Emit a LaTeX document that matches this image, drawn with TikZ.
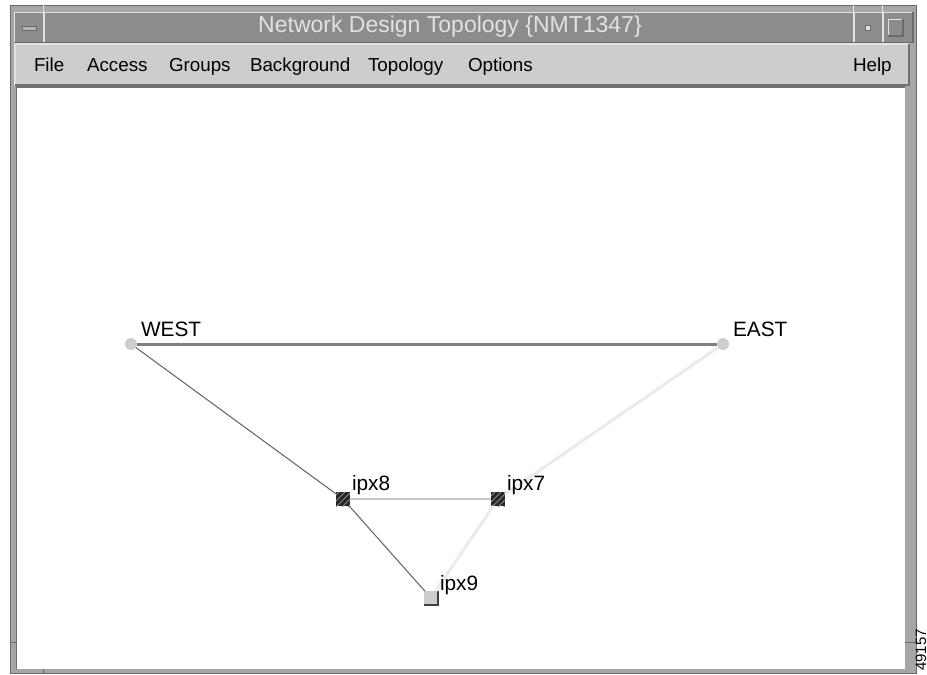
\documentclass[tikz,border=0pt]{standalone}
\usepackage{fontspec}
\setmainfont{Liberation Sans}
\usetikzlibrary{patterns}
\definecolor{framegray}{HTML}{A6A6A6}
\definecolor{framedark}{HTML}{6A6A6A}
\definecolor{titlegray}{HTML}{8C8C8C}
\definecolor{menugray}{HTML}{CDCDCD}
\definecolor{bevellight}{HTML}{E2E2E2}
\definecolor{beveldark}{HTML}{707070}

\begin{document}
\begin{tikzpicture}[x=0.5pt, y=-0.5pt,
  every node/.style = {inner sep=0pt, outer sep=0pt},
  menuitem/.style = {anchor=base west, font=\fontsize{9.4}{11}\selectfont},
  tag/.style = {anchor=base west, font=\fontsize{10.4}{12}\selectfont},
  site/.style = {circle, fill=menugray, minimum size=6pt},
  switch/.style = {rectangle, minimum size=7pt, fill=black!85,
    postaction={pattern=north east lines, pattern color=white!55!black}},
  spare/.style = {rectangle, minimum size=7pt, fill=menugray},
  trunk/.style = {draw=black!50, line width=1.5pt},
  thin/.style = {draw=black!62, line width=0.5pt},
  pale/.style = {draw=black!22, line width=0.75pt},
  faint/.style = {draw=black!8, line width=1.5pt}]

  \useasboundingbox (0,0) rectangle (927,675);
  \fill[white] (0,0) rectangle (927,675);

  \fill[framegray] (10,5) rectangle (917,674);
  \draw[framedark, line width=0.5pt] (10.5,5.5) rectangle (916.5,673.5);
  \fill[titlegray] (14,12) rectangle (913,42);
  \draw[bevellight, line width=0.5pt] (14,42) -- (14,12) -- (913,12);
  \draw[framedark, line width=0.75pt] (14,42.5) -- (913,42.5) -- (913,12);
  \foreach \sx in {43,853,882}
    \draw[framedark, line width=0.5pt] (\sx,5) -- (\sx,42)
      [bevellight] (\sx+1.5,12) -- (\sx+1.5,42);
  \draw[framedark, line width=0.5pt, fill=bevellight!80!black] (22,26) rectangle (36,30);
  \draw[framedark, line width=0.5pt, fill=bevellight] (865,25) rectangle (870,30);
  \draw[bevellight, line width=0.5pt] (888,36) -- (888,19) -- (903,19);
  \draw[framedark, line width=0.75pt] (888,36) -- (903,36) -- (903,19);

  \fill[menugray] (15,44) rectangle (909,86);
  \draw[bevellight, line width=0.75pt] (15,86) -- (15,44) -- (909,44);
  \draw[beveldark, line width=1pt] (15,85) -- (909,85) -- (909,44);
  \fill[white] (17,87) rectangle (905,669);
  \draw[beveldark, line width=0.75pt] (16.5,669) -- (16.5,87) -- (905,87);
  \foreach \sy in {642}
    \draw[framedark, line width=0.5pt] (10,\sy) -- (16,\sy) (905,\sy) -- (917,\sy);
  \draw[framedark, line width=0.5pt] (43,669) -- (43,674);

  \node[font=\fontsize{11.5}{13}\selectfont, text=bevellight] (title) at (450,27)
    {Network Design Topology \{NMT1347\}};

  \node[menuitem] (mfile) at (34,71) {File};
  \node[menuitem] (maccess) at (87,71) {Access};
  \node[menuitem] (mgroups) at (169,71) {Groups};
  \node[menuitem] (mbackground) at (250,71) {Background};
  \node[menuitem] (mtopology) at (368,71) {Topology};
  \node[menuitem] (moptions) at (468,71) {Options};
  \node[menuitem] (mhelp) at (853,71) {Help};

  \node [site] (west) at (131,344) {};
  \node [site] (east) at (723,344) {};
  \node [switch] (ipx8) at (343,499) {};
  \node [switch] (ipx7) at (498,499) {};
  \node [spare] (ipx9) at (431,598) {};
  \draw[black!75, line width=0.75pt] (ipx9.south west) -- (ipx9.south east) -- (ipx9.north east);

  \draw[trunk] (west) -- (east);
  \draw[thin] (west) -- (ipx8);
  \draw[thin] (ipx8) -- (ipx9);
  \draw[pale] (ipx8) -- (ipx7);
  \draw[faint] (east) -- (ipx7);
  \draw[faint] (ipx7) -- (ipx9);

  \node[tag] (westtag) at ([shift={(10,-8)}]west.center) {WEST};
  \node[tag] (easttag) at ([shift={(10,-8)}]east.center) {EAST};
  \node[tag] (ipx8tag) at ([shift={(9,-9)}]ipx8.center) {ipx8};
  \node[tag] (ipx7tag) at ([shift={(9,-9)}]ipx7.center) {ipx7};
  \node[tag] (ipx9tag) at ([shift={(9,-8)}]ipx9.center) {ipx9};

  \node[rotate=90, anchor=base, font=\fontsize{7.5}{9}\selectfont] (figno) at (926,650) {49157};
\end{tikzpicture}
\end{document}
